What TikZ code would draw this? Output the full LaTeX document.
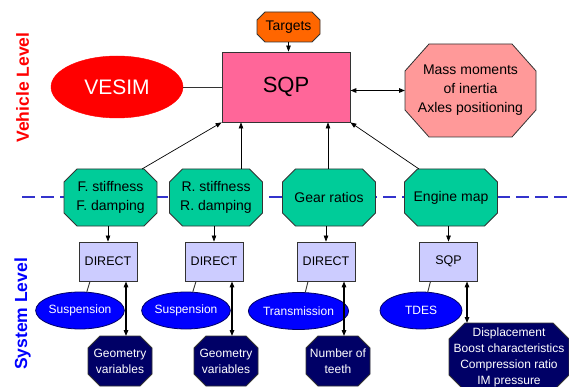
\documentclass[tikz,border=0pt]{standalone}
\usepackage{fontspec}
\setmainfont{Liberation Sans}
\usetikzlibrary{shapes.geometric,arrows.meta,calc}
\definecolor{cgreen}{HTML}{00CC99}
\definecolor{corange}{HTML}{FF6600}
\definecolor{cpink}{HTML}{FF6699}
\definecolor{csalmon}{HTML}{FF9999}
\definecolor{clav}{HTML}{CCCCFF}
\definecolor{cblue}{HTML}{0000FF}
\definecolor{cnavy}{HTML}{000066}
\definecolor{cdash}{HTML}{3333CC}
\definecolor{cred}{HTML}{FF0000}
\definecolor{cedge}{HTML}{333333}
\pgfdeclarelayer{bbg}
\pgfdeclarelayer{bg}
\pgfsetlayers{bbg,bg,main}
% octagon outline behind a named rectangular node: name, x-cut, y-cut, fill
\newcommand\octo[4]{%
  \begin{pgfonlayer}{bg}
  \draw[draw=cedge, line width=0.8pt, fill=#4]
    ($(#1.north west)+(#2,0)$) -- ($(#1.north east)+(-#2,0)$) --
    ($(#1.north east)+(0,#3)$) -- ($(#1.south east)+(0,-#3)$) --
    ($(#1.south east)+(-#2,0)$) -- ($(#1.south west)+(#2,0)$) --
    ($(#1.south west)+(0,-#3)$) -- ($(#1.north west)+(0,#3)$) -- cycle;
  \end{pgfonlayer}}
\begin{document}
\begin{tikzpicture}[x=1pt,y=-1pt,
  oct/.style={rectangle, inner sep=0pt, outer sep=0pt, align=center},
  tgt/.style={oct, minimum width=63pt, minimum height=30pt, font=\fontsize{14}{17}\selectfont},
  sqpbox/.style={rectangle, draw=cedge, line width=0.8pt, fill=cpink, minimum width=128pt, minimum height=70pt,
    inner sep=0pt, font=\fontsize{22}{26}\selectfont},
  vesim/.style={ellipse, fill=cred, draw=cred, minimum width=132pt, minimum height=62pt, inner sep=0pt,
    text=white, font=\fontsize{21}{25}\selectfont},
  mass/.style={oct, minimum width=131pt, minimum height=93pt, font=\fontsize{14}{19}\selectfont},
  param/.style={oct, minimum width=93pt, minimum height=57pt, font=\fontsize{14}{19}\selectfont},
  optbox/.style={rectangle, draw=cedge, line width=0.8pt, fill=clav, minimum width=58pt, minimum height=39pt,
    inner sep=0pt, font=\fontsize{12.5}{15}\selectfont},
  sim/.style={ellipse, draw=cnavy, line width=0.8pt, fill=cblue, minimum width=82pt, minimum height=37pt, inner sep=0pt,
    text=white, font=\fontsize{12}{15}\selectfont},
  var/.style={oct, minimum width=64pt, minimum height=50pt, text=white, font=\fontsize{12}{16}\selectfont},
  lvl/.style={rotate=90, font=\bfseries\fontsize{17.5}{20}\selectfont},
  arr/.style={-{Triangle[length=6pt,width=4.5pt]}, line width=0.7pt},
  darr/.style={{Triangle[length=6pt,width=4.5pt]}-{Triangle[length=6pt,width=4.5pt]}, line width=1.3pt},
  plain/.style={draw=cedge, line width=0.9pt}
]
\useasboundingbox (0,0) rectangle (569,387);
\begin{pgfonlayer}{bbg}
\fill[white] (0,0) rectangle (569,387);
% dashed level separator
\coordinate (dl) at (22,197);
\coordinate (dr) at (569,197);
\draw[cdash, line width=1.6pt, dash pattern=on 13pt off 6pt] (dl) -- (dr);
\end{pgfonlayer}

\node[lvl, text=cred] (vl) at (22.5,87.5) {Vehicle Level};
\node[lvl, text=cblue] (sl) at (22.5,314) {System Level};

% vehicle level
\node[tgt] (tg) at (288.5,27) {Targets};
\octo{tg}{8}{8}{corange}
\node[sqpbox] (sqp) at (286,87) {SQP};
\node[vesim] (ves) at (117,87) {VESIM};
\node[mass] (mm) at (470.5,90.5) {Mass moments\\of inertia\\Axles positioning};
\octo{mm}{24}{27}{csalmon}

% parameters
\node[param] (g1) at (110.5,197.5) {F. stiffness\\F. damping};
\node[param] (g2) at (216,197.5) {R. stiffness\\R. damping};
\node[param] (g3) at (329,197.5) {Gear ratios};
\node[param] (g4) at (451,197.5) {Engine map};
\foreach \g in {g1,g2,g3,g4}{\octo{\g}{13}{13}{cgreen}}

% system optimizers
\node[optbox] (b1) at (108,261.5) {DIRECT};
\node[optbox] (b2) at (214,261.5) {DIRECT};
\node[optbox] (b3) at (326,261.5) {DIRECT};
\node[optbox] (b4) at (448.5,261.5) {SQP};

% simulators
\node[sim] (e1) at (80,310.5) {Suspension};
\node[sim] (e2) at (186,310.5) {Suspension};
\node[sim] (e3) at (298.5,311) {Transmission};
\node[sim] (e4) at (421,310.5) {TDES};

% variables
\node[var] (v1) at (120,361) {Geometry\\variables};
\node[var] (v2) at (226,361) {Geometry\\variables};
\node[var] (v3) at (338,361) {Number of\\teeth};
\node[var, minimum width=120pt, minimum height=68pt] (v4) at (509,357)
  {Displacement\\Boost characteristics\\Compression ratio\\IM pressure};
\foreach \v in {v1,v2,v3}{\octo{\v}{12}{12}{cnavy}}
\octo{v4}{16}{16}{cnavy}

% vehicle-level connectors
\draw[arr] (tg.south) -- (sqp.north -| tg.south);
\draw[plain] (ves.east) -- (sqp.west);
\draw[darr] (mm.west -| sqp.east) -- (mm.west);
\draw[arr] ($(g1.north)+(31.5,0)$) -- (sqp.south west);
\draw[arr] ($(g2.north)+(25,0)$) -- ($(sqp.south)+(-45,0)$);
\draw[arr] ($(g3.north)+(-1,0)$) -- ($(sqp.south)+(42,0)$);
\draw[arr] ($(g4.north)+(-32,0)$) -- (sqp.south east);

% parameter to optimizer
\foreach \g/\b in {g1/b1,g2/b2,g3/b3,g4/b4}{
  \draw[arr] (\b.north |- \g.south) -- (\b.north);
}
% simulator links
\foreach \e/\b in {e1/b1,e2/b2,e3/b3,e4/b4}{
  \draw[plain] (\e.70) -- ($(\b.south)+(-18,0)$);
}
% optimizer to variables
\foreach \b/\v in {b1/v1,b2/v2,b3/v3}{
  \draw[darr] ($(\b.south)+(18,0)$) coordinate (t\b) -- (t\b |- \v.north);
}
\draw[darr] ($(b4.south)+(18.5,0)$) coordinate (tb4) -- (tb4 |- v4.north);
\end{tikzpicture}
\end{document}
